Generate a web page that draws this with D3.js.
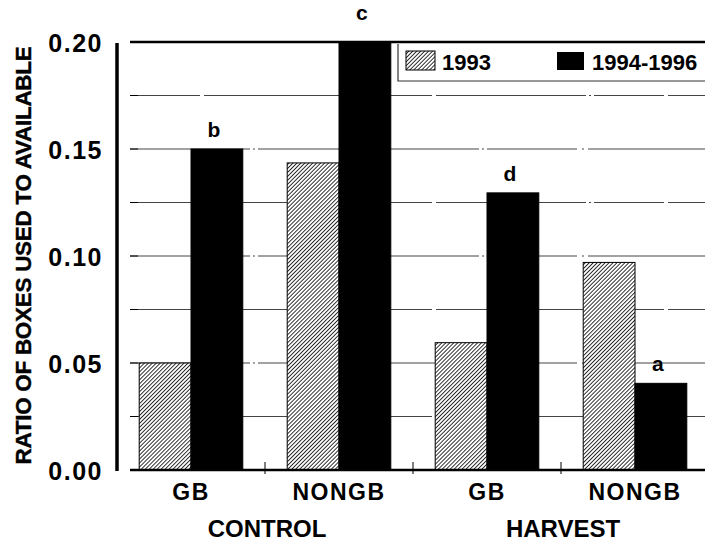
<!DOCTYPE html>
<html>
<head>
<meta charset="utf-8">
<script src="https://cdn.jsdelivr.net/npm/d3@7"></script>
<style>
  html, body { margin: 0; padding: 0; background: #fff; }
  svg { display: block; }
  text { font-family: "Liberation Sans", Arial, Helvetica, sans-serif; font-weight: bold; fill: #000; }
</style>
</head>
<body>
<svg id="chart" width="705" height="542"></svg>
<script>
// ---- data ----
const categories = ["CONTROL GB", "CONTROL NONGB", "HARVEST GB", "HARVEST NONGB"];
const categoryLabels = ["GB", "NONGB", "GB", "NONGB"];
const groups = ["CONTROL", "HARVEST"];
const seriesNames = ["1993", "1994-1996"];
const values1993 = [0.050, 0.1435, 0.0595, 0.097];
const values9496 = [0.150, 0.205, 0.1295, 0.0405];
const letters = ["b", "c", "d", "a"];
const yTicks = [0.00, 0.05, 0.10, 0.15, 0.20];
const gridTicks = [0.025, 0.05, 0.075, 0.10, 0.125, 0.15, 0.175];

// ---- layout ----
const svg = d3.select("#chart");
const plotLeft = 130, plotRight = 705;
const y = d3.scaleLinear().domain([0, 0.2]).range([470, 42]);
const x = d3.scaleBand().domain(categories).range([117, 709]).paddingInner(0.3).paddingOuter(0.15);
const xs = d3.scaleBand().domain(seriesNames).range([0, x.bandwidth()]);

// hatch pattern
const defs = svg.append("defs");
const pat = defs.append("pattern").attr("id", "hatch")
  .attr("patternUnits", "userSpaceOnUse").attr("width", 2.8).attr("height", 2.8)
  .attr("patternTransform", "rotate(45)");
pat.append("rect").attr("width", 2.8).attr("height", 2.8).attr("fill", "#fff");
pat.append("line").attr("x1", 0).attr("y1", 0).attr("x2", 0).attr("y2", 2.8)
  .attr("stroke", "#000").attr("stroke-width", 1.6);

const clip = defs.append("clipPath").attr("id", "plotclip");
clip.append("rect").attr("x", plotLeft).attr("y", y(0.2)).attr("width", plotRight - plotLeft).attr("height", y(0) - y(0.2));

// gridlines
svg.append("g").selectAll("line").data(gridTicks).join("line")
  .attr("x1", plotLeft).attr("x2", plotRight)
  .attr("y1", d => y(d)).attr("y2", d => y(d))
  .attr("stroke", "#444").attr("stroke-width", 1)
  .attr("stroke-dasharray", (d, i) => i % 2 ? "120,3,2,3,90,5,2,4" : "70,4,150,3,2,3");

// bars
const data = categories.map((c, i) => ({ c, v: [values1993[i], values9496[i]], letter: letters[i] }));
const barG = svg.append("g").attr("clip-path", "url(#plotclip)");
data.forEach(d => {
  seriesNames.forEach((s, j) => {
    barG.append("rect")
      .attr("x", x(d.c) + xs(s))
      .attr("y", y(d.v[j]))
      .attr("width", xs.bandwidth())
      .attr("height", y(0) - y(d.v[j]))
      .attr("fill", j === 0 ? "url(#hatch)" : "#000")
      .attr("stroke", "#000").attr("stroke-width", 1);
  });
});

// significance letters
svg.append("g").selectAll("text").data(data).join("text")
  .attr("x", d => x(d.c) + xs(seriesNames[1]) + xs.bandwidth() / 2 - 3)
  .attr("y", d => Math.max(y(d.v[1]), y(0.2) - 4) - 12 - (d.v[1] >= 0.2 ? 6 : 0))
  .attr("text-anchor", "middle").attr("font-size", 21)
  .text(d => d.letter);

// top frame line
svg.append("line").attr("x1", plotLeft).attr("x2", plotRight)
  .attr("y1", y(0.2)).attr("y2", y(0.2)).attr("stroke", "#000").attr("stroke-width", 2.5);

// baseline
svg.append("line").attr("x1", plotLeft).attr("x2", plotRight)
  .attr("y1", y(0)).attr("y2", y(0)).attr("stroke", "#000").attr("stroke-width", 2.5);

// separator ticks at baseline
const seps = categories.slice(1).map(c => x(c) - x.step() * x.paddingInner() / 2);
svg.append("g").selectAll("line").data(seps).join("line")
  .attr("x1", d => d).attr("x2", d => d)
  .attr("y1", y(0) - 8).attr("y2", y(0) + 4)
  .attr("stroke", "#000").attr("stroke-width", 1);

// left ticks at gridlines
svg.append("g").selectAll("line").data(gridTicks).join("line")
  .attr("x1", plotLeft).attr("x2", plotLeft + 8)
  .attr("y1", d => y(d)).attr("y2", d => y(d))
  .attr("stroke", "#000").attr("stroke-width", 1);

// y axis using d3 axis
const yAxis = d3.axisLeft(y).tickValues(yTicks).tickFormat(d3.format(".2f")).tickSize(0).tickPadding(14);
const yg = svg.append("g").attr("transform", "translate(117,0)").call(yAxis);
yg.select(".domain").attr("stroke", "#000").attr("stroke-width", 3.5).attr("d", `M0,${y(0.2) + 1}V${y(0) + 1}`);
yg.selectAll(".tick text")
  .attr("font-size", 25).attr("letter-spacing", 1.5)
  .attr("font-family", "Liberation Sans, Arial, sans-serif").attr("font-weight", "bold")
  .attr("fill", "#000").attr("dy", "0.36em");

// y axis title
svg.append("text")
  .attr("transform", `translate(31,${(40 + 471) / 2}) rotate(-90)`)
  .attr("text-anchor", "middle").attr("font-size", 22.5).attr("letter-spacing", -0.3)
  .attr("stroke", "#000").attr("stroke-width", 0.4)
  .text("RATIO OF BOXES USED TO AVAILABLE");

// category labels
svg.append("g").selectAll("text").data(categories).join("text")
  .attr("x", d => x(d) + x.bandwidth() / 2)
  .attr("y", 500)
  .attr("text-anchor", "middle").attr("font-size", 23).attr("letter-spacing", 1.5)
  .text((d, i) => categoryLabels[i]);

// group labels
svg.append("g").selectAll("text").data(groups).join("text")
  .attr("x", (g, i) => {
    const a = categories[i * 2], b = categories[i * 2 + 1];
    return (x(a) + x(b) + x.bandwidth()) / 2 + 2;
  })
  .attr("y", 537)
  .attr("text-anchor", "middle").attr("font-size", 24)
  .text(d => d);

// legend
const lg = svg.append("g");
lg.append("path").attr("d", "M398,44V81H705").attr("fill", "none").attr("stroke", "#333").attr("stroke-width", 1.2);
lg.append("rect").attr("x", 406).attr("y", 51).attr("width", 29).attr("height", 19)
  .attr("fill", "url(#hatch)").attr("stroke", "#000").attr("stroke-width", 1);
lg.append("text").attr("x", 442).attr("y", 70).attr("font-size", 22).text(seriesNames[0]);
lg.append("rect").attr("x", 557).attr("y", 52).attr("width", 27).attr("height", 18).attr("fill", "#000");
lg.append("text").attr("x", 592).attr("y", 70).attr("font-size", 22).text(seriesNames[1]);
</script>
</body>
</html>
